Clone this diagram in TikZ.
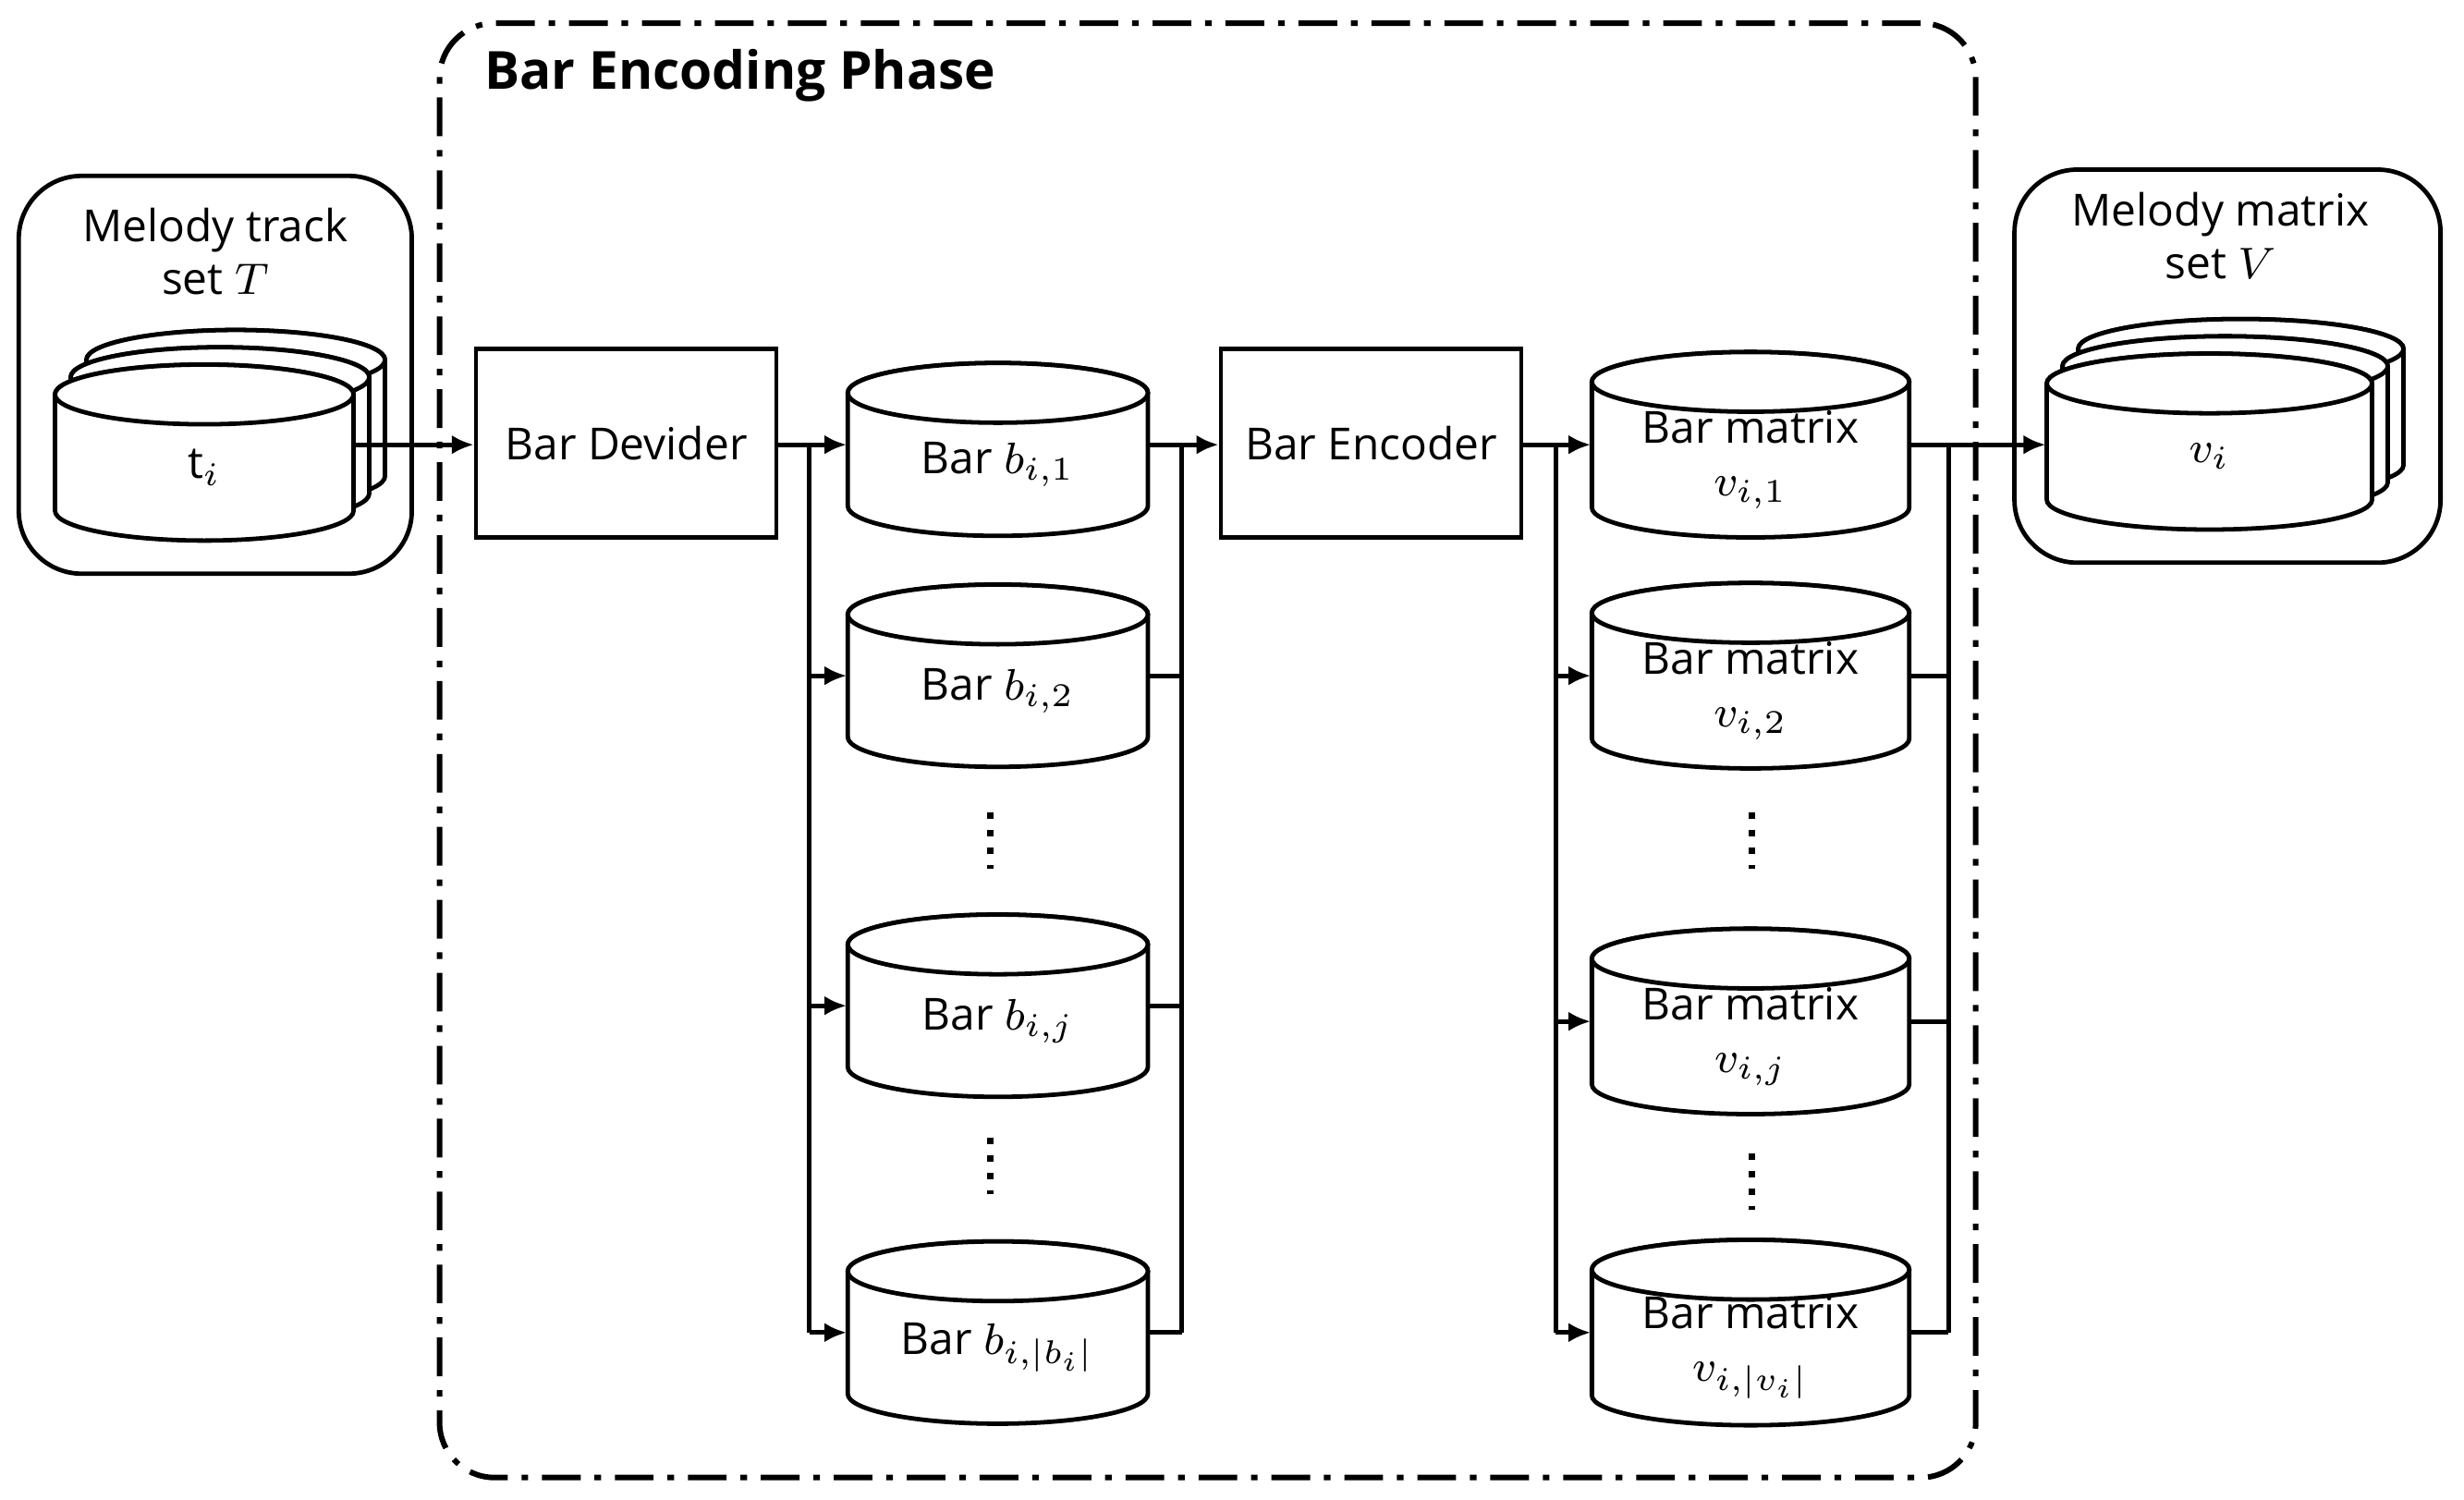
\documentclass[tikz,border=0pt]{standalone}
\usepackage{fontspec}
\setmainfont{Open Sans}
\usetikzlibrary{shapes.geometric,arrows.meta}
% name, cx, cy, w, h, text
\newcommand\mycyl[6]{%
  \pgfmathsetmacro\rx{#4/2}\pgfmathsetmacro\ry{19}%
  \pgfmathsetmacro\yt{#3-#5/2+\ry}\pgfmathsetmacro\yb{#3+#5/2-\ry}%
  \filldraw[cylline] (#2-\rx,\yt) -- (#2-\rx,\yb) arc[start angle=180,end angle=0,x radius=\rx,y radius=\ry] -- (#2+\rx,\yt) arc[start angle=0,end angle=-180,x radius=\rx,y radius=\ry] -- cycle;
  \draw[cylline] (#2,\yt) ellipse[x radius=\rx,y radius=\ry];
  \node[minimum width=#4*0.01cm,minimum height=#5*0.01cm,inner sep=0pt] (#1) at (#2,#3) {};
  \node[align=center] (#1t) at (#2,#3+\ry/2) {#6};}
\begin{document}
\begin{tikzpicture}[x=0.01cm,y=-0.01cm,
  every node/.style={font=\fontsize{8}{9.5}\selectfont},
  cylline/.style={draw,fill=white,line width=0.8pt},
  box/.style={draw,line width=0.8pt,minimum width=1.91cm,minimum height=1.2cm},
  ln/.style={line width=0.8pt},
  ar/.style={ln,-{Latex[length=4pt,width=3.5pt]}}]
\useasboundingbox (0,0) rectangle (1568,954);
% outer phase
\node[draw,line width=1pt,dash pattern=on 7pt off 2.5pt on 1.2pt off 2.5pt,rounded corners=0.35cm,minimum width=9.77cm,minimum height=9.25cm] (phase) at (768.5,477.5) {};
\node[anchor=west,font=\fontsize{9.5}{11}\selectfont\bfseries] (title) at (296,48) {Bar Encoding Phase};
% left set
\node[draw,line width=0.8pt,rounded corners=0.4cm,minimum width=2.5cm,minimum height=2.53cm] (lset) at (137,238.5) {};
\node[align=center] (ltxt) at (137,160) {Melody track\\set $T$};
\mycyl{l3}{150}{266}{190}{112}{}
\mycyl{l2}{140}{277}{190}{112}{}
\mycyl{l1}{130}{288}{190}{112}{$\mathrm{t}_i$}
% right set
\node[draw,line width=0.8pt,rounded corners=0.4cm,minimum width=2.71cm,minimum height=2.5cm] (rset) at (1417.5,233) {};
\node[align=center] (rtxt) at (1413,150) {Melody matrix\\set $V$};
\mycyl{r3}{1426}{259}{207}{112}{}
\mycyl{r2}{1416}{270}{207}{112}{}
\mycyl{r1}{1406}{281}{207}{112}{$v_i$}
% boxes
\node[box] (div) at (398.5,282) {Bar Devider};
\node[box] (enc) at (872.5,282) {Bar Encoder};
% bar cylinders
\mycyl{b1}{635}{286}{191}{110}{Bar $b_{i,1}$}
\mycyl{b2}{635}{430}{191}{116}{Bar $b_{i,2}$}
\mycyl{bj}{635}{640}{191}{116}{Bar $b_{i,j}$}
\mycyl{bn}{635}{848}{191}{116}{Bar $b_{i,|b_i|}$}
\mycyl{v1}{1114}{283}{202}{118}{Bar matrix\\$v_{i,1}$}
\mycyl{v2}{1114}{430}{202}{118}{Bar matrix\\$v_{i,2}$}
\mycyl{vj}{1114}{650}{202}{118}{Bar matrix\\$v_{i,j}$}
\mycyl{vn}{1114}{848}{202}{118}{Bar matrix\\$v_{i,|v_i|}$}
% dots
\foreach \n/\x/\y in {d1/630/535,d2/630/742,d3/1115/535,d4/1115/752}
  \draw[line width=1.2pt,dash pattern=on 1.2pt off 2pt] (\x,\y-18) coordinate (\n a) -- (\x,\y+18) coordinate (\n b);
% coordinates
\coordinate (s1) at (515,283); \coordinate (s2) at (515,848);
\coordinate (c1) at (752,283); \coordinate (c2) at (752,848);
\coordinate (t1) at (990,283); \coordinate (t2) at (990,848);
\coordinate (u1) at (1240,283); \coordinate (u2) at (1240,848);
% connectors
\draw[ar] (l1.east |- s1) -- (div.west |- s1);
\draw[ar] (div.east |- s1) -- (b1.west |- s1);
\draw[ln] (s1) -- (s2);
\foreach \b/\y in {b2/430,bj/640,bn/848} \draw[ar] (515,\y) -- (\b.west |- 0,\y);
\foreach \b/\y in {b1/283,b2/430,bj/640,bn/848} \draw[ln] (\b.east |- 0,\y) -- (752,\y);
\draw[ln] (c1) -- (c2);
\draw[ar] (c1) -- (enc.west |- c1);
\draw[ar] (enc.east |- t1) -- (v1.west |- t1);
\draw[ln] (t1) -- (t2);
\foreach \b/\y in {v2/430,vj/650,vn/848} \draw[ar] (990,\y) -- (\b.west |- 0,\y);
\foreach \b/\y in {v1/283,v2/430,vj/650,vn/848} \draw[ln] (\b.east |- 0,\y) -- (1240,\y);
\draw[ln] (u1) -- (u2);
\draw[ar] (u1) -- (r1.west |- u1);
\end{tikzpicture}
\end{document}
